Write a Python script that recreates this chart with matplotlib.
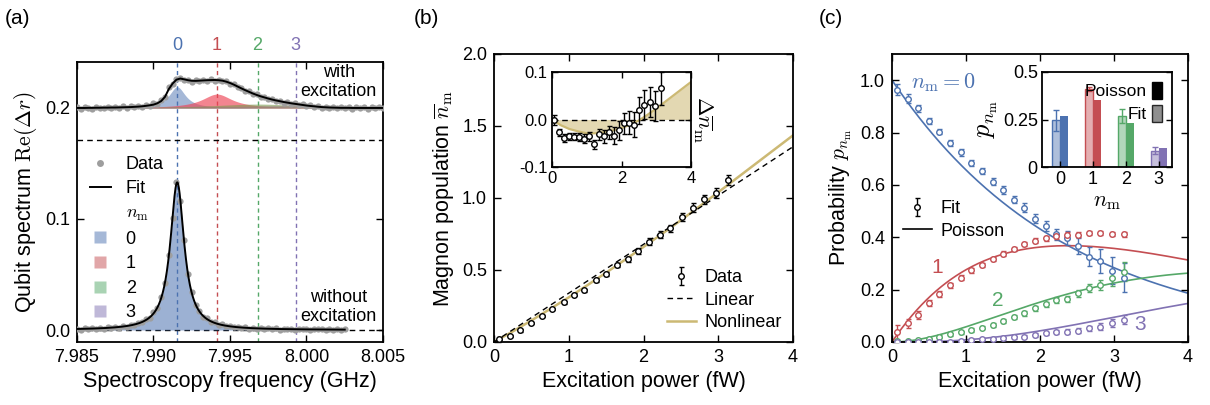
import numpy as np
import matplotlib
matplotlib.use("Agg")
import matplotlib.pyplot as plt
from matplotlib.lines import Line2D
from matplotlib.patches import Patch
from matplotlib.colors import to_rgba

plt.rcParams.update({
    "font.family": ["Liberation Sans", "DejaVu Sans"],
    "mathtext.fontset": "cm",
    "font.size": 13,
    "axes.linewidth": 1.3,
    "xtick.direction": "in", "ytick.direction": "in",
    "xtick.top": True, "ytick.right": True,
    "xtick.major.size": 5, "ytick.major.size": 5,
    "xtick.major.width": 1.0, "ytick.major.width": 1.0,
    "xtick.major.pad": 5, "ytick.major.pad": 5,
    "legend.frameon": False,
})

BLUE, RED, GREEN, PURPLE, TAN = "#4C72B0", "#C44E52", "#55A868", "#8172B3", "#CCB974"
N_COLORS = [BLUE, RED, GREEN, PURPLE]

# --- (a) qubit spectroscopy --------------------------------------------------
f_start, f_step = 7.985, 0.00025          # GHz, sweep grid of the data
peak_freqs = [7.99155, 7.99415, 7.9968, 7.9993]   # n_m = 0..3 lines

# without excitation (single Lorentzian)
off_amp, off_hwhm = 0.133, 0.00055
off_data = [0.0010, 0.0003, 0.0018, 0.0008, 0.0016, 0.0011, 0.0022, 0.0012, 0.0025, 0.0017,
            0.0030, 0.0022, 0.0038, 0.0031, 0.0048, 0.0043, 0.0065, 0.0068, 0.0095, 0.0108,
            0.0160, 0.0195, 0.0300, 0.0420, 0.0680, 0.1010, 0.1330, 0.1160, 0.0810, 0.0500,
            0.0345, 0.0225, 0.0175, 0.0120, 0.0104, 0.0072, 0.0068, 0.0048, 0.0050, 0.0032,
            0.0038, 0.0024, 0.0030, 0.0017, 0.0025, 0.0012, 0.0020, 0.0010, 0.0018, 0.0007,
            0.0016, 0.0006, 0.0015, 0.0004, 0.0013, 0.0008, 0.0010, 0.0002, 0.0011, 0.0006,
            0.0009, 0.0001, 0.0010, 0.0005, 0.0008, 0.0000, 0.0009, 0.0004, 0.0007, 0.0002,
            0.0006]

# with excitation (plotted with +0.2 offset)
on_fit = [0.0000, 0.0000, 0.0000, 0.0001, 0.0001, 0.0002, 0.0002, 0.0003, 0.0003, 0.0004,
          0.0004, 0.0005, 0.0006, 0.0007, 0.0008, 0.0010, 0.0012, 0.0015, 0.0019, 0.0024,
          0.0030, 0.0042, 0.0062, 0.0100, 0.0170, 0.0220, 0.0255, 0.0265, 0.0258, 0.0250,
          0.0245, 0.0244, 0.0246, 0.0248, 0.0250, 0.0251, 0.0252, 0.0250, 0.0246, 0.0237,
          0.0225, 0.0210, 0.0193, 0.0176, 0.0160, 0.0145, 0.0130, 0.0117, 0.0105, 0.0095,
          0.0085, 0.0076, 0.0068, 0.0061, 0.0054, 0.0048, 0.0042, 0.0037, 0.0032, 0.0027,
          0.0022, 0.0018, 0.0015, 0.0011, 0.0008, 0.0006, 0.0004, 0.0003, 0.0002, 0.0001,
          0.0001, 0.0001, 0.0000, 0.0000, 0.0000, 0.0000, 0.0000, 0.0000, 0.0000, 0.0000,
          0.0000]
on_data = [0.0008, -0.0005, 0.0010, 0.0002, -0.0006, 0.0011, 0.0004, -0.0004, 0.0012, 0.0000,
           0.0013, -0.0002, 0.0015, 0.0003, 0.0017, 0.0006, 0.0021, 0.0010, 0.0027, 0.0018,
           0.0041, 0.0038, 0.0075, 0.0095, 0.0185, 0.0212, 0.0262, 0.0270, 0.0250, 0.0255,
           0.0238, 0.0250, 0.0240, 0.0255, 0.0244, 0.0258, 0.0247, 0.0256, 0.0240, 0.0243,
           0.0218, 0.0215, 0.0187, 0.0181, 0.0153, 0.0150, 0.0124, 0.0122, 0.0099, 0.0100,
           0.0079, 0.0081, 0.0062, 0.0066, 0.0049, 0.0053, 0.0036, 0.0042, 0.0027, 0.0032,
           0.0016, 0.0024, 0.0009, 0.0017, 0.0002, 0.0012, -0.0002, 0.0010, -0.0003, 0.0008,
           -0.0004, 0.0007, -0.0005, 0.0008, -0.0004, 0.0006, -0.0006, 0.0007, -0.0003, 0.0005,
           -0.0002]
on_offset = 0.2
comp_amp = [0.019, 0.0125, 0.0035, 0.0022]          # fitted n_m components
comp_hwhm = [0.00065, 0.0012, 0.0035, 0.005]

# --- (b) magnon population ---------------------------------------------------
power = [0.07, 0.21, 0.35, 0.50, 0.64, 0.78, 0.93, 1.07, 1.21, 1.36, 1.50,
         1.65, 1.79, 1.93, 2.08, 2.22, 2.36, 2.51, 2.66, 2.81, 2.97, 3.13]   # fW
nbar = [0.023, 0.044, 0.080, 0.134, 0.181, 0.228, 0.275, 0.327, 0.358, 0.430, 0.473,
        0.532, 0.573, 0.632, 0.697, 0.746, 0.789, 0.870, 0.933, 0.990, 1.035, 1.127]
nbar_err = [0.010, 0.008, 0.008, 0.008, 0.008, 0.008, 0.009, 0.010, 0.010, 0.012, 0.013,
            0.014, 0.017, 0.020, 0.022, 0.024, 0.026, 0.028, 0.030, 0.032, 0.032, 0.035]
lin_slope = 0.339                                    # linear fit, 1/fW
nl_power = [0.0, 0.25, 0.5, 0.75, 1.0, 1.25, 1.5, 1.75, 2.0, 2.25, 2.5, 2.75, 3.0,
            3.25, 3.5, 3.75, 4.0]
nl_dev = [0.0, -0.012, -0.020, -0.025, -0.029, -0.029, -0.027, -0.023, -0.018, -0.011,
          -0.002, 0.010, 0.023, 0.037, 0.051, 0.065, 0.079]   # nonlinear - linear

# --- (c) number-state probabilities -----------------------------------------
p0 = [0.964, 0.930, 0.892, 0.843, 0.803, 0.761, 0.724, 0.684, 0.653, 0.613, 0.580,
      0.544, 0.513, 0.471, 0.444, 0.411, 0.398, 0.366, 0.326, 0.310, 0.272, 0.245]
p1 = [0.037, 0.071, 0.103, 0.148, 0.183, 0.216, 0.245, 0.274, 0.294, 0.317, 0.338,
      0.355, 0.373, 0.387, 0.396, 0.405, 0.408, 0.410, 0.415, 0.415, 0.412, 0.412]
p2 = [0.005, 0.005, 0.008, 0.011, 0.020, 0.029, 0.037, 0.046, 0.055, 0.065, 0.080,
      0.094, 0.109, 0.128, 0.144, 0.160, 0.165, 0.186, 0.207, 0.218, 0.243, 0.268]
p3 = [0.000, 0.000, 0.000, 0.000, 0.001, 0.001, 0.005, 0.008, 0.010, 0.012, 0.014,
      0.018, 0.020, 0.027, 0.033, 0.037, 0.040, 0.043, 0.052, 0.059, 0.072, 0.085]
p0_err = [0.022, 0.016, 0.013, 0.012, 0.010, 0.011, 0.012, 0.012, 0.013, 0.013, 0.014,
          0.015, 0.016, 0.017, 0.019, 0.022, 0.026, 0.030, 0.036, 0.045, 0.052, 0.055]
p1_err = [0.028, 0.018, 0.014, 0.012, 0.010, 0.010, 0.010, 0.010, 0.009, 0.008, 0.008,
          0.008, 0.008, 0.009, 0.010, 0.012, 0.013, 0.010, 0.008, 0.008, 0.008, 0.010]
p2_err = [0.004, 0.004, 0.004, 0.005, 0.005, 0.005, 0.006, 0.006, 0.006, 0.007, 0.007,
          0.008, 0.008, 0.009, 0.010, 0.011, 0.012, 0.014, 0.016, 0.020, 0.028, 0.036]
p3_err = [0.003, 0.003, 0.003, 0.003, 0.003, 0.003, 0.004, 0.004, 0.004, 0.004, 0.005,
          0.005, 0.005, 0.006, 0.006, 0.007, 0.008, 0.009, 0.010, 0.012, 0.015, 0.018]
poisson_slope = 0.42                                 # nbar per fW for Poisson model


def lorentz(f, f0, amp, hwhm):
    return amp / (1 + ((f - f0) / hwhm) ** 2)


def poisson(n, nb):
    return np.exp(-nb) * nb ** n / np.prod(np.arange(1, n + 1))


W, H = 1210, 405
fig = plt.figure(figsize=(12.1, 4.05), dpi=100)


def px_axes(l, t, r, b):
    return fig.add_axes([l / W, 1 - b / H, (r - l) / W, (b - t) / H])


MS = 4.0   # open-circle marker size for (b) and (c)

# ============================ panel (a) ======================================
ax = px_axes(77, 62, 383, 342)
f_off = f_start + f_step * np.arange(len(off_data))
f_on = f_start + f_step * np.arange(len(on_data))
f_dense = np.linspace(f_start, f_off[-1], 800)
f_full = np.linspace(7.985, 8.005, 800)

ax.axhline(0.171, color="k", ls="--", lw=1, dashes=(4, 3))
ax.axhline(0.0, color="k", ls="--", lw=1, dashes=(4, 3))
for f0, c in zip(peak_freqs, N_COLORS):
    ax.axvline(f0, color=c, ls="--", lw=1, dashes=(3, 2.5), zorder=1)

# components under the excited spectrum
fill_cols = [to_rgba(BLUE, 0.5), to_rgba("#EE4455", 0.65),
             to_rgba("#7a9a50", 0.6), to_rgba("#9a7a80", 0.6)]
for f0, a, g, c in zip(peak_freqs, comp_amp, comp_hwhm, fill_cols):
    ax.fill_between(f_full, on_offset, on_offset + lorentz(f_full, f0, a, g),
                    color=c, lw=0, zorder=2)
ax.fill_between(f_dense, 0, lorentz(f_dense, peak_freqs[0], off_amp, off_hwhm),
                color=to_rgba(BLUE, 0.55), lw=0, zorder=2)

ax.plot(f_on, np.array(on_data) + on_offset, "o", color="0.62", ms=4.5, mec="none", zorder=3)
ax.plot(f_off, off_data, "o", color="0.62", ms=4.5, mec="none", zorder=3)
ax.plot(f_on, np.array(on_fit) + on_offset, color="k", lw=1.4, zorder=4)
ax.plot(f_dense, lorentz(f_dense, peak_freqs[0], off_amp, off_hwhm), color="k", lw=1.4, zorder=4)

ax.set_xlim(7.985, 8.005)
ax.set_ylim(-0.0108, 0.2414)
ax.set_xticks([7.985, 7.990, 7.995, 8.000, 8.005])
ax.set_xticklabels(["7.985", "7.990", "7.995", "8.000", "8.005"])
ax.set_yticks([0.0, 0.1, 0.2])
ax.set_yticklabels(["0.0", "0.1", "0.2"])
ax.set_xlabel("Spectroscopy frequency (GHz)", fontsize=15.5)
ax.set_ylabel(r"Qubit spectrum $\mathrm{Re}(\Delta r)$", fontsize=15.5)
for i, (f0, c) in enumerate(zip(peak_freqs, N_COLORS)):
    ax.text(f0, 1.06, str(i), color=c, ha="center", va="center", fontsize=13,
            transform=ax.get_xaxis_transform())
ax.text(8.0021, 0.2234, "with\nexcitation", ha="center", va="center",
        fontsize=13, linespacing=1.2)
ax.text(8.0021, 0.0207, "without\nexcitation", ha="center", va="center",
        fontsize=13, linespacing=1.2)

handles = [Line2D([], [], ls="none", marker="o", color="0.62", mec="none", ms=5),
           Line2D([], [], color="k", lw=1.4),
           Line2D([], [], ls="none")]
handles += [Line2D([], [], ls="none", marker="s", ms=9, mec="none",
                   mfc=to_rgba(c, 0.5)) for c in N_COLORS]
labels = ["Data", "Fit", r"$n_\mathrm{m}$", "0", "1", "2", "3"]
ax.legend(handles, labels, loc="upper left", bbox_to_anchor=(0.0, 0.71),
          handlelength=1.2, handletextpad=0.8, labelspacing=0.42, fontsize=13,
          borderaxespad=0.3)

# ============================ panel (b) ======================================
ax = px_axes(494, 54, 793, 342)
P = np.array(power)
nl_P = np.array(nl_power)
ax.plot([0, 4], [0, 4 * lin_slope], color="k", ls="--", lw=1, dashes=(4, 3),
        label="Linear", zorder=2)
ax.plot(nl_P, lin_slope * nl_P + np.array(nl_dev), color=TAN, lw=1.8,
        label="Nonlinear", zorder=1)
ax.errorbar(P, nbar, yerr=nbar_err, fmt="o", ms=MS, mfc="white", mec="k",
            mew=1.0, ecolor="k", elinewidth=1, capsize=1.8, label="Data", zorder=3)
ax.set_xlim(0, 4)
ax.set_ylim(0, 2)
ax.set_xticks([0, 1, 2, 3, 4])
ax.set_yticks([0, 0.5, 1.0, 1.5, 2.0])
ax.set_yticklabels(["0.0", "0.5", "1.0", "1.5", "2.0"])
ax.set_xlabel("Excitation power (fW)", fontsize=15.5)
ax.set_ylabel(r"Magnon population $\overline{n}_\mathrm{m}$", fontsize=15.5)
h, l = ax.get_legend_handles_labels()
order = [l.index("Data"), l.index("Linear"), l.index("Nonlinear")]
ax.legend([h[i] for i in order], [l[i] for i in order], loc="lower right",
          fontsize=13, handlelength=1.6, handletextpad=0.5, labelspacing=0.3,
          borderaxespad=0.2)

ins = px_axes(552, 72, 691, 167)
dev = np.array(nbar) - lin_slope * P
ins.axhline(0, color="k", ls="--", lw=1, dashes=(4, 3))
ins.fill_between(nl_P, 0, nl_dev, color=TAN, alpha=0.55, lw=0)
ins.plot(nl_P, nl_dev, color=TAN, lw=1.6)
ins.errorbar(P, dev, yerr=nbar_err, fmt="o", ms=MS, mfc="white", mec="k", mew=1.0,
             ecolor="k", elinewidth=1, capsize=1.8)
ins.set_xlim(0, 4)
ins.set_ylim(-0.1, 0.1)
ins.set_xticks([0, 2, 4])
ins.set_yticks([-0.1, 0.0, 0.1])
ins.set_yticklabels(["-0.1", "0.0", "0.1"])
ins.tick_params(labelsize=12, length=4, pad=3)
ins.yaxis.set_label_position("right")
ins.set_ylabel(r"$\Delta\overline{n}_\mathrm{m}$", fontsize=16, rotation=270, labelpad=17)

# ============================ panel (c) ======================================
ax = px_axes(892, 54, 1188, 342)
pc = np.linspace(0, 4, 300)
probs = [p0, p1, p2, p3]
errs = [p0_err, p1_err, p2_err, p3_err]
for n, c in enumerate(N_COLORS):
    ax.plot(pc, poisson(n, poisson_slope * pc), color=c, lw=1.2, zorder=1)
    ax.errorbar(P, probs[n], yerr=errs[n], fmt="o", ms=MS, mfc="white", mec=c,
                mew=1.0, ecolor=c, elinewidth=1, capsize=1.8, zorder=3)
ax.set_xlim(0, 4)
ax.set_ylim(0, 1.1)
ax.set_xticks([0, 1, 2, 3, 4])
ax.set_yticks([0, 0.2, 0.4, 0.6, 0.8, 1.0])
ax.set_yticklabels(["0.0", "0.2", "0.4", "0.6", "0.8", "1.0"])
ax.set_xlabel("Excitation power (fW)", fontsize=15.5)
ax.set_ylabel(r"Probability $p_{n_\mathrm{m}}$", fontsize=15.5)
ax.text(0.25, 0.99, r"$n_\mathrm{m}=0$", color=BLUE, fontsize=16, va="center")
ax.text(0.61, 0.286, "1", color=RED, fontsize=15, ha="center", va="center")
ax.text(1.43, 0.16, "2", color=GREEN, fontsize=15, ha="center", va="center")
ax.text(3.35, 0.065, "3", color=PURPLE, fontsize=15, ha="center", va="center")
fit_h = ax.errorbar([np.nan], [np.nan], yerr=[0.02], fmt="o", ms=MS, mfc="white",
                    mec="k", ecolor="k", elinewidth=1, capsize=1.8)
pois_h = Line2D([], [], color="k", lw=1.2)
ax.legend([fit_h, pois_h], ["Fit", "Poisson"], loc="upper left",
          bbox_to_anchor=(0.0, 0.53), fontsize=13, handlelength=1.6,
          handletextpad=0.5, labelspacing=0.3, borderaxespad=0.2)

ins = px_axes(1042, 72, 1172, 167)
n_idx = np.arange(4)
last_fit = [p[-1] for p in probs]
last_err = [e[-1] for e in errs]
last_pois = [poisson(n, poisson_slope * power[-1]) for n in n_idx]
bw = 0.24
for n, c in enumerate(N_COLORS):
    ins.bar(n - 0.13, last_fit[n], bw, color=to_rgba(c, 0.45), edgecolor=c, lw=1)
    ins.errorbar(n - 0.13, last_fit[n], yerr=last_err[n], color=c, elinewidth=1,
                 capsize=2.5)
    ins.bar(n + 0.13, last_pois[n], bw, color=c, lw=0)
ins.set_xlim(-0.55, 3.4)
ins.set_ylim(0, 0.5)
ins.set_xticks([0, 1, 2, 3])
ins.set_yticks([0, 0.25, 0.5])
ins.set_yticklabels(["0", "0.25", "0.5"])
ins.tick_params(labelsize=13, length=4, pad=3)
ins.tick_params(axis="x", top=False)
ins.set_xlabel(r"$n_\mathrm{m}$", fontsize=16, labelpad=2)
ins.set_ylabel(r"$p_{n_\mathrm{m}}$", fontsize=19, labelpad=2)
ins.legend([Patch(fc="k", ec="k"), Patch(fc="0.45", ec="k", alpha=0.8)],
           ["Poisson", "Fit"], loc="upper right", markerfirst=False, fontsize=12.5,
           handlelength=0.6, handleheight=1.2, handletextpad=0.3, labelspacing=0.3,
           borderaxespad=0.15)

for txt, x in (("(a)", 5), ("(b)", 414), ("(c)", 819)):
    fig.text(x / W, 1 - 18 / H, txt, fontsize=15, va="center", ha="left")

fig.savefig("out.png", dpi=100)
